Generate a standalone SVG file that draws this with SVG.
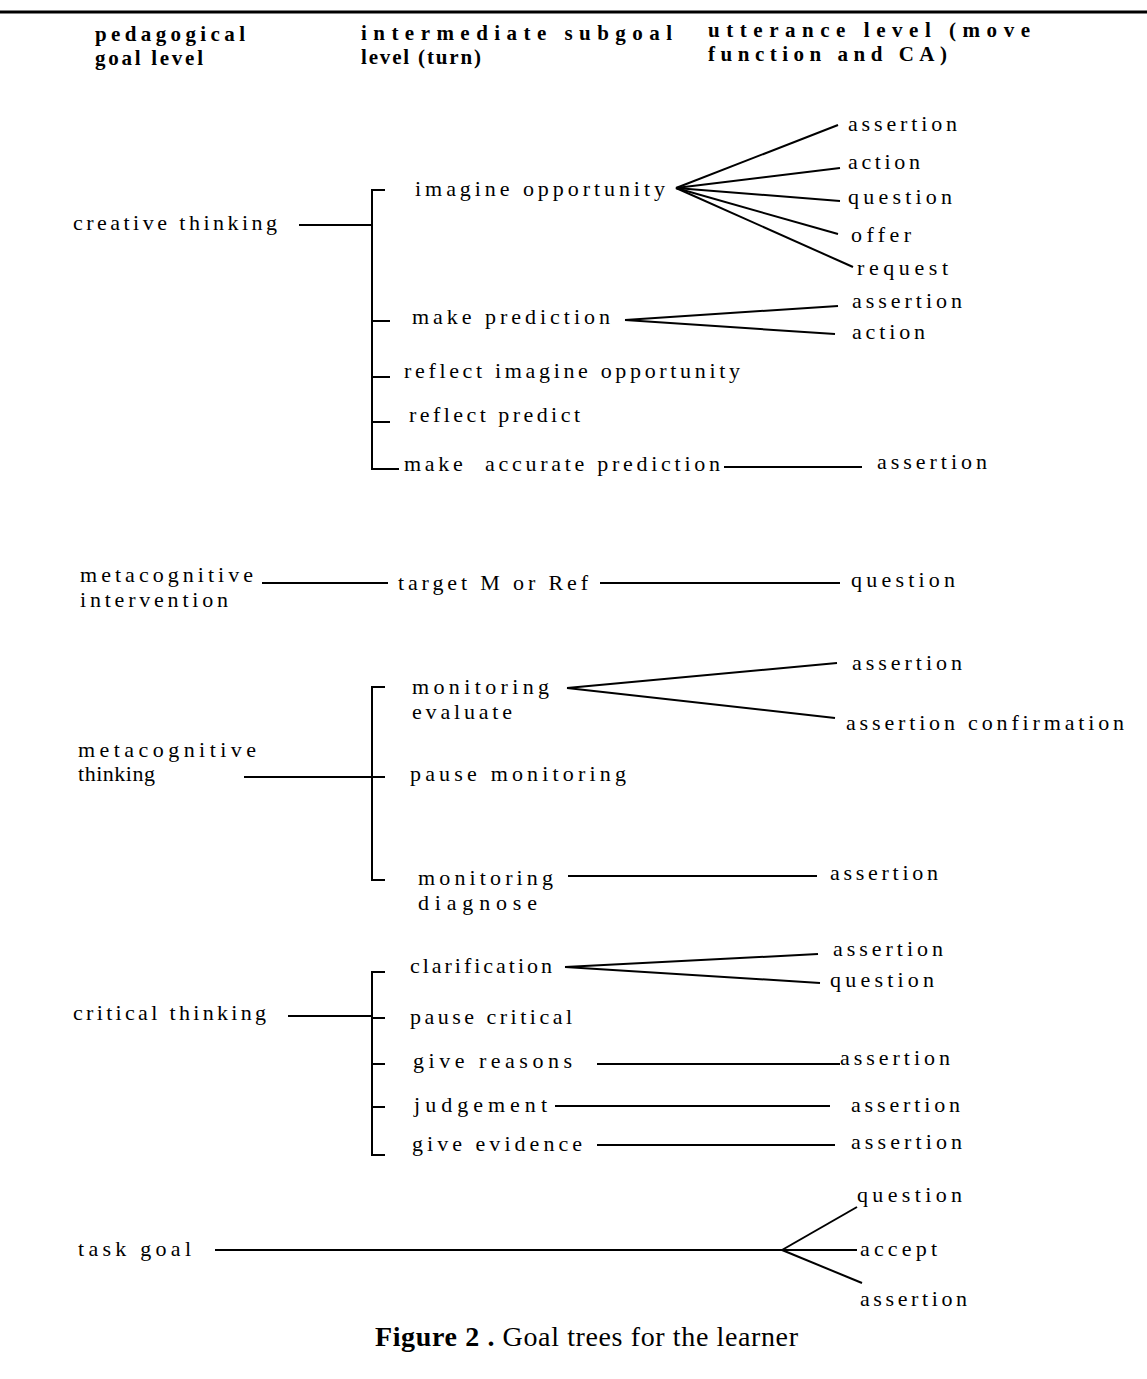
<svg xmlns="http://www.w3.org/2000/svg" width="1147" height="1379" viewBox="0 0 1147 1379">
<style>
text{font-family:"Liberation Serif","Times New Roman",serif;fill:#000}
.h{font-size:21px;font-weight:bold}
.t{font-size:22px}
.cap{font-size:28px}
line,polyline{stroke:#000;stroke-width:2;fill:none}
</style>
<rect width="1147" height="1379" fill="#fff"/>
<line x1="0" y1="12" x2="1147" y2="12" style="stroke-width:3"/>
<g id="headers">
<text class="h" x="95" y="41" textLength="150" lengthAdjust="spacing">pedagogical</text>
<text class="h" x="95" y="65" textLength="108" lengthAdjust="spacing">goal level</text>
<text class="h" x="361" y="40" textLength="311" lengthAdjust="spacing">intermediate subgoal</text>
<text class="h" x="361" y="64" textLength="120" lengthAdjust="spacing">level (turn)</text>
<text class="h" x="708" y="37" textLength="322" lengthAdjust="spacing">utterance level (move</text>
<text class="h" x="708" y="61" textLength="239" lengthAdjust="spacing">function and CA)</text>
</g>
<g id="connectors">
<line x1="299" y1="225" x2="372" y2="225"/>
<polyline points="385,190 372,190 372,469 399,469"/>
<line x1="372" y1="321" x2="390" y2="321"/>
<line x1="372" y1="377" x2="390" y2="377"/>
<line x1="372" y1="422" x2="390" y2="422"/>
<line x1="676" y1="188" x2="838" y2="125"/>
<line x1="676" y1="188" x2="840" y2="168"/>
<line x1="676" y1="188" x2="840" y2="201"/>
<line x1="676" y1="188" x2="838" y2="234"/>
<line x1="676" y1="188" x2="853" y2="267"/>
<line x1="625" y1="320" x2="838" y2="306"/>
<line x1="625" y1="320" x2="835" y2="334"/>
<line x1="724" y1="467" x2="862" y2="467"/>
<line x1="262" y1="583" x2="388" y2="583"/>
<line x1="600" y1="583" x2="840" y2="583"/>
<line x1="244" y1="777" x2="385" y2="777"/>
<polyline points="385,687 372,687 372,880 385,880"/>
<line x1="567" y1="688" x2="837" y2="663"/>
<line x1="567" y1="688" x2="835" y2="718"/>
<line x1="568" y1="876" x2="817" y2="876"/>
<line x1="288" y1="1016" x2="372" y2="1016"/>
<polyline points="385,972 372,972 372,1155 385,1155"/>
<line x1="372" y1="1018" x2="385" y2="1018"/>
<line x1="372" y1="1064" x2="385" y2="1064"/>
<line x1="372" y1="1107" x2="385" y2="1107"/>
<line x1="565" y1="967" x2="818" y2="954"/>
<line x1="565" y1="967" x2="820" y2="983"/>
<line x1="597" y1="1064" x2="840" y2="1064"/>
<line x1="555" y1="1106" x2="830" y2="1106"/>
<line x1="597" y1="1145" x2="835" y2="1145"/>
<line x1="215" y1="1250" x2="782" y2="1250"/>
<line x1="782" y1="1250" x2="857" y2="1207"/>
<line x1="782" y1="1250" x2="857" y2="1250"/>
<line x1="782" y1="1250" x2="862" y2="1283"/>
</g>
<g id="creative-thinking">
<text class="t" x="73" y="230" textLength="204" lengthAdjust="spacing">creative thinking</text>
<text class="t" x="415" y="196" textLength="250" lengthAdjust="spacing">imagine opportunity</text>
<text class="t" x="848" y="131" textLength="109" lengthAdjust="spacing">assertion</text>
<text class="t" x="848" y="169" textLength="72" lengthAdjust="spacing">action</text>
<text class="t" x="848" y="204" textLength="104" lengthAdjust="spacing">question</text>
<text class="t" x="851" y="242" textLength="60" lengthAdjust="spacing">offer</text>
<text class="t" x="857" y="275" textLength="91" lengthAdjust="spacing">request</text>
<text class="t" x="412" y="324" textLength="198" lengthAdjust="spacing">make prediction</text>
<text class="t" x="852" y="308" textLength="110" lengthAdjust="spacing">assertion</text>
<text class="t" x="852" y="339" textLength="73" lengthAdjust="spacing">action</text>
<text class="t" x="404" y="378" textLength="336" lengthAdjust="spacing">reflect imagine opportunity</text>
<text class="t" x="409" y="422" textLength="171" lengthAdjust="spacing">reflect predict</text>
<text class="t" x="404" y="471" textLength="316" lengthAdjust="spacing" xml:space="preserve">make  accurate prediction</text>
<text class="t" x="877" y="469" textLength="110" lengthAdjust="spacing">assertion</text>
</g>
<g id="metacognitive-intervention">
<text class="t" x="80" y="582" textLength="173" lengthAdjust="spacing">metacognitive</text>
<text class="t" x="80" y="607" textLength="148" lengthAdjust="spacing">intervention</text>
<text class="t" x="398" y="590" textLength="190" lengthAdjust="spacing">target M or Ref</text>
<text class="t" x="851" y="587" textLength="104" lengthAdjust="spacing">question</text>
</g>
<g id="metacognitive-thinking">
<text class="t" x="78" y="757" textLength="178" lengthAdjust="spacing">metacognitive</text>
<text class="t" x="78" y="781" textLength="77" lengthAdjust="spacing">thinking</text>
<text class="t" x="412" y="694" textLength="137" lengthAdjust="spacing">monitoring</text>
<text class="t" x="412" y="719" textLength="100" lengthAdjust="spacing">evaluate</text>
<text class="t" x="852" y="670" textLength="110" lengthAdjust="spacing">assertion</text>
<text class="t" x="846" y="730" textLength="278" lengthAdjust="spacing">assertion confirmation</text>
<text class="t" x="410" y="781" textLength="216" lengthAdjust="spacing">pause monitoring</text>
<text class="t" x="418" y="885" textLength="135" lengthAdjust="spacing">monitoring</text>
<text class="t" x="418" y="910" textLength="119" lengthAdjust="spacing">diagnose</text>
<text class="t" x="830" y="880" textLength="108" lengthAdjust="spacing">assertion</text>
</g>
<g id="critical-thinking">
<text class="t" x="73" y="1020" textLength="193" lengthAdjust="spacing">critical thinking</text>
<text class="t" x="410" y="973" textLength="142" lengthAdjust="spacing">clarification</text>
<text class="t" x="833" y="956" textLength="110" lengthAdjust="spacing">assertion</text>
<text class="t" x="830" y="987" textLength="104" lengthAdjust="spacing">question</text>
<text class="t" x="410" y="1024" textLength="162" lengthAdjust="spacing">pause critical</text>
<text class="t" x="413" y="1068" textLength="159" lengthAdjust="spacing">give reasons</text>
<text class="t" x="840" y="1065" textLength="110" lengthAdjust="spacing">assertion</text>
<text class="t" x="414" y="1112" textLength="133" lengthAdjust="spacing">judgement</text>
<text class="t" x="851" y="1112" textLength="109" lengthAdjust="spacing">assertion</text>
<text class="t" x="412" y="1151" textLength="170" lengthAdjust="spacing">give evidence</text>
<text class="t" x="851" y="1149" textLength="111" lengthAdjust="spacing">assertion</text>
</g>
<g id="task-goal">
<text class="t" x="78" y="1256" textLength="113" lengthAdjust="spacing">task goal</text>
<text class="t" x="857" y="1202" textLength="105" lengthAdjust="spacing">question</text>
<text class="t" x="860" y="1256" textLength="77" lengthAdjust="spacing">accept</text>
<text class="t" x="860" y="1306" textLength="107" lengthAdjust="spacing">assertion</text>
</g>
<g id="caption">
<text class="cap" x="375" y="1346" textLength="423" lengthAdjust="spacing"><tspan font-weight="bold">Figure 2 .</tspan> Goal trees for the learner</text>
</g>
</svg>
